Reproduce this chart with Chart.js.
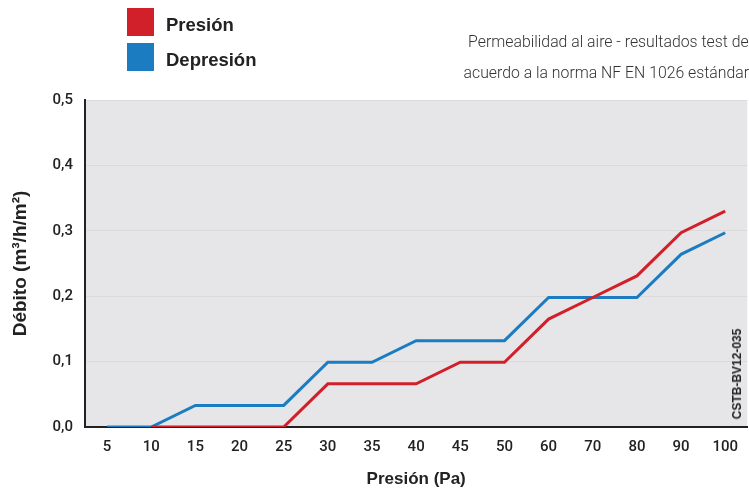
<!DOCTYPE html>
<html><head><meta charset="utf-8">
<script src="https://cdn.jsdelivr.net/npm/chart.js@4/dist/chart.umd.min.js"></script>
<style>
html,body{margin:0;padding:0;background:#fff;}
#wrap{position:relative;width:749px;height:494px;overflow:hidden;}
canvas{position:absolute;left:0;top:0;}
.sw{position:absolute;left:127px;width:27px;height:28px;}
.lg{position:absolute;left:166px;font:bold 18.5px "Liberation Sans",Arial,sans-serif;color:#222;}
.tt{position:absolute;right:0;font:300 17px Roboto,sans-serif;color:#333;white-space:nowrap;transform-origin:right center;transform:scaleX(0.93);}
#code{position:absolute;left:737px;top:374px;font:bold 12px "Liberation Sans",Arial,sans-serif;color:#222;white-space:nowrap;transform:translate(-50%,-50%) rotate(-90deg);}
</style></head>
<body><div id="wrap">
<canvas id="c" width="749" height="494"></canvas>
<div class="sw" style="top:8px;background:#d2202a"></div>
<div class="sw" style="top:43px;background:#1c7cc2"></div>
<div class="lg" style="top:14px">Presión</div>
<div class="lg" style="top:49px">Depresión</div>
<div class="tt" style="top:31px">Permeabilidad al aire - resultados test de</div>
<div class="tt" style="top:62px">acuerdo a la norma NF EN 1026 estándar</div>
<div id="code">CSTB-BV12-035</div>
</div>
<script>
const categories = ['5','10','15','20','25','30','35','40','45','50','60','70','80','90','100'];
const presion   = [null, 0, 0, 0, 0, 0.066, 0.066, 0.066, 0.099, 0.099, 0.165, 0.198, 0.231, 0.297, 0.330];
const depresion = [0, 0, 0.033, 0.033, 0.033, 0.099, 0.099, 0.132, 0.132, 0.132, 0.198, 0.198, 0.198, 0.264, 0.297];
const yTicks = [0, 0.1, 0.2, 0.3, 0.4, 0.5];

const bgPlugin = {
  id: 'bg',
  beforeDraw(chart) {
    const {ctx, chartArea: a} = chart;
    ctx.save();
    ctx.fillStyle = '#e6e6e8';
    ctx.fillRect(a.left, a.top, a.right - a.left, a.bottom - a.top);
    ctx.restore();
  }
};

const tickFont = {family: 'Roboto', size: 15, weight: '500'};

new Chart(document.getElementById('c'), {
  type: 'line',
  data: {
    labels: categories,
    datasets: [
      {label: 'Presión', data: presion, borderColor: '#d2202a', borderWidth: 3, pointRadius: 0, tension: 0, order: 0},
      {label: 'Depresión', data: depresion, borderColor: '#1c7cc2', borderWidth: 3, pointRadius: 0, tension: 0, order: 1}
    ]
  },
  plugins: [bgPlugin],
  options: {
    responsive: false,
    animation: false,
    layout: {padding: {top: 100, left: 0, right: 0, bottom: 0}},
    plugins: {legend: {display: false}, tooltip: {enabled: false}},
    scales: {
      x: {
        offset: true,
        grid: {display: false, drawTicks: false},
        border: {color: '#222', width: 2},
        ticks: {color: '#222', font: tickFont, padding: 11, maxRotation: 0, autoSkip: false},
        title: {display: true, text: 'Presión (Pa)', color: '#222', font: {family: 'Liberation Sans', size: 17, weight: 'bold'}, padding: {top: 4, bottom: 4}},
        afterFit(s) { s.height = 67; }
      },
      y: {
        min: 0, max: 0.5,
        afterBuildTicks(s) { s.ticks = yTicks.map(v => ({value: v})); },
        grid: {color: '#dadadc', lineWidth: 1, drawTicks: false},
        border: {color: '#222', width: 2},
        ticks: {color: '#222', font: tickFont, padding: 12,
          callback: v => v.toFixed(1).replace('.', ',')},
        title: {display: true, text: 'Débito (m³/h/m²)', color: '#222', font: {family: 'Liberation Sans', size: 19, weight: 'bold'}, padding: {top: 9, bottom: 0}},
        afterFit(s) { s.width = 85; }
      }
    }
  }
});
</script>
</body></html>
